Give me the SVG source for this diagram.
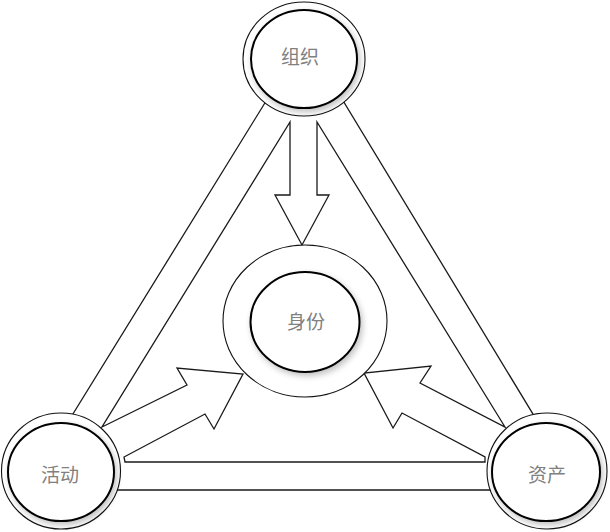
<svg xmlns="http://www.w3.org/2000/svg" width="610" height="532" viewBox="0 0 610 532">
<style>
.band{fill:#fff;stroke:#1a1a1a;stroke-width:1.3;stroke-linejoin:miter}
.ring{fill:#fff;stroke:#111;stroke-width:1.1}
.core{fill:#fff;stroke:#000;stroke-width:2;filter:url(#sh)}
.lbl{font-family:"Noto Sans CJK SC","Noto Sans",sans-serif;font-size:19px;fill:#808080;text-anchor:middle;dominant-baseline:central}
</style>
<defs>
<filter id="sh" x="-20%" y="-20%" width="140%" height="140%">
<feGaussianBlur in="SourceAlpha" stdDeviation="3"/>
<feOffset dx="2" dy="3" result="b"/>
<feComponentTransfer><feFuncA type="linear" slope="0.25"/></feComponentTransfer>
<feMerge><feMergeNode/><feMergeNode in="SourceGraphic"/></feMerge>
</filter>
</defs>
<rect width="610" height="532" fill="#fff"/>
<g id="connectors">
<polygon class="band" points="305,38 26,490 579,490"/>
<polygon class="band" points="290,122 290,195 275,195 302,245 329,195 317,195 317,122 505,427 420,383 431,366 364,373 393,428 402,413 485,457 485,462 125,462 124,457 205,414 214,429 243,374 177,368 187,385 102,427"/>
</g>
<g id="node-zuzhi">
<ellipse class="ring" cx="304" cy="59" rx="61" ry="57"/>
<ellipse class="core" cx="304" cy="59" rx="53" ry="49"/>
<text class="lbl" x="300" y="55">组织</text>
</g>
<g id="node-shenfen">
<ellipse class="ring" cx="305" cy="321" rx="82" ry="76"/>
<ellipse class="core" cx="305" cy="322" rx="54.5" ry="50"/>
<text class="lbl" x="306" y="320">身份</text>
</g>
<g id="node-huodong">
<ellipse class="ring" cx="61" cy="471" rx="59.5" ry="58"/>
<ellipse class="core" cx="61" cy="472" rx="53" ry="49"/>
<text class="lbl" x="60" y="473">活动</text>
</g>
<g id="node-zichan">
<ellipse class="ring" cx="547" cy="471" rx="60" ry="58"/>
<ellipse class="core" cx="546" cy="472" rx="54" ry="49"/>
<text class="lbl" x="547" y="473">资产</text>
</g>
</svg>
